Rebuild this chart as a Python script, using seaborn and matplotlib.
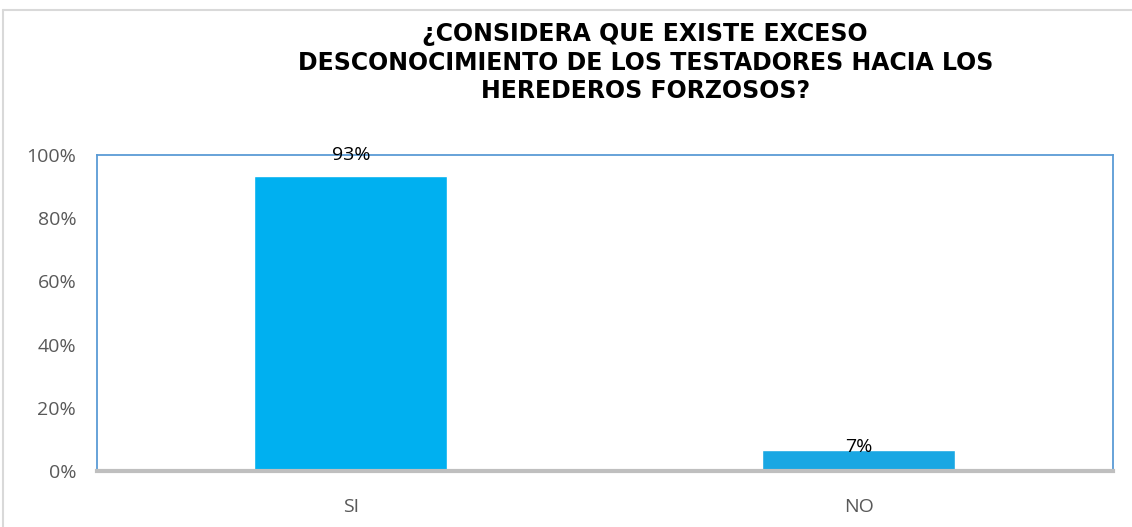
import pandas as pd
import matplotlib.pyplot as plt
import seaborn as sns
from matplotlib.lines import Line2D

# ------------------ DATA ------------------
categories = ["SI", "NO"]
values = [0.933, 0.067]
labels = ["93%", "7%"]
bar_colors = ["#00B0F0", "#19A7E3"]
title = "¿CONSIDERA QUE EXISTE EXCESO\nDESCONOCIMIENTO DE LOS TESTADORES HACIA LOS\nHEREDEROS FORZOSOS?"

df = pd.DataFrame({"respuesta": categories, "pct": values})

# ------------------ STYLE ------------------
sns.set_style("white")
plt.rcParams["font.family"] = ["Open Sans", "DejaVu Sans"]

fig = plt.figure(figsize=(11.32, 5.27), dpi=100)
ax = fig.add_axes([0.0857, 0.106, 0.8973, 0.6])

sns.barplot(data=df, x="respuesta", y="pct", hue="respuesta",
            palette=bar_colors, width=0.38, legend=False, ax=ax,
            saturation=1)

ax.set_ylim(0, 1)
ax.set_xlim(-0.5, 1.5)
ax.set_yticks([0, 0.2, 0.4, 0.6, 0.8, 1.0])
ax.set_yticklabels(["0%", "20%", "40%", "60%", "80%", "100%"])
ax.tick_params(axis="y", length=0, pad=15, labelsize=14, labelcolor="#595959")
ax.tick_params(axis="x", length=0, pad=19, labelsize=14, labelcolor="#595959")
ax.set_xlabel("")
ax.set_ylabel("")

# borders
for side in ["top", "right", "left"]:
    ax.spines[side].set_color("#5B9BD5")
    ax.spines[side].set_linewidth(1.3)
ax.spines["bottom"].set_color("#BFBFBF")
ax.spines["bottom"].set_linewidth(3)

# ------------------ LABELS ------------------
offsets = [15, 2]  # points above bar top
for bar, lab, off in zip(ax.patches, labels, offsets):
    ax.annotate(lab, (bar.get_x() + bar.get_width() / 2, bar.get_height()),
                xytext=(0, off), textcoords="offset points",
                ha="center", va="center", fontsize=14, color="black")

# ------------------ TITLE ------------------
fig.text(0.57, 0.958, title, ha="center", va="top", fontsize=17,
         fontweight="bold", family=["DejaVu Sans"], linespacing=1.23,
         color="black")

# outer frame of the chart
fig.add_artist(Line2D([0.003, 1.0], [0.981, 0.981], transform=fig.transFigure,
                      color="#D9D9D9", lw=1.5))
fig.add_artist(Line2D([0.003, 0.003], [0.0, 0.981], transform=fig.transFigure,
                      color="#D9D9D9", lw=1.5))

plt.savefig("out.png", dpi=100)
plt.close()
